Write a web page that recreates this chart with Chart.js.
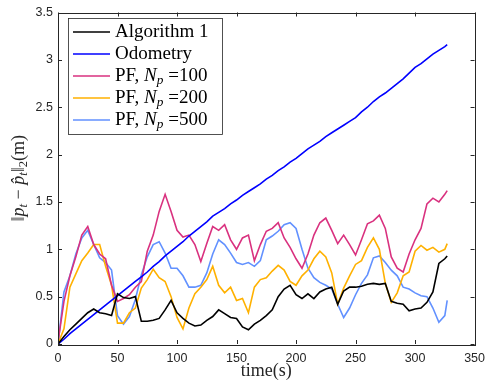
<!DOCTYPE html>
<html>
<head>
<meta charset="utf-8">
<script src="https://cdn.jsdelivr.net/npm/chart.js@4.4.0/dist/chart.umd.min.js"></script>
<style>
  html, body { margin: 0; padding: 0; background: #fff; }
  #wrap { width: 492px; height: 391px; }
</style>
</head>
<body>
<div id="wrap"><canvas id="errChart"></canvas></div>
<script>
// time axis (s)
var timeS = [0, 5, 10, 15, 20, 25, 30, 35, 40, 45, 50, 55, 60, 65, 70, 75, 80, 85, 90, 95,
  100, 105, 110, 115, 120, 125, 130, 135, 140, 145, 150, 155, 160, 165, 170, 175, 180, 185, 190, 195,
  200, 205, 210, 215, 220, 225, 230, 235, 240, 245, 250, 255, 260, 265, 270, 275, 280, 285, 290, 295,
  300, 305, 310, 315, 320, 325, 327];

var alg1 = [0, 0.08, 0.15, 0.21, 0.27, 0.33, 0.37, 0.33, 0.32, 0.30, 0.53, 0.49, 0.48, 0.50, 0.24, 0.24, 0.25, 0.27, 0.36, 0.46,
  0.33, 0.27, 0.22, 0.19, 0.20, 0.25, 0.29, 0.36, 0.32, 0.28, 0.27, 0.18, 0.15, 0.21, 0.25, 0.30, 0.36, 0.50, 0.58, 0.62,
  0.52, 0.48, 0.53, 0.48, 0.55, 0.58, 0.60, 0.42, 0.56, 0.60, 0.60, 0.61, 0.63, 0.64, 0.63, 0.64, 0.45, 0.43, 0.42, 0.35,
  0.37, 0.38, 0.44, 0.55, 0.85, 0.90, 0.93];

var odometry = [0, 0.05, 0.11, 0.16, 0.21, 0.26, 0.31, 0.36, 0.41, 0.46, 0.51, 0.56, 0.61, 0.66, 0.71, 0.76, 0.82, 0.87, 0.93, 0.98,
  1.03, 1.08, 1.14, 1.19, 1.24, 1.29, 1.35, 1.39, 1.43, 1.48, 1.52, 1.57, 1.61, 1.65, 1.69, 1.74, 1.78, 1.83, 1.87, 1.92,
  1.96, 2.01, 2.06, 2.10, 2.14, 2.19, 2.23, 2.27, 2.31, 2.35, 2.39, 2.45, 2.50, 2.56, 2.61, 2.65, 2.70, 2.75, 2.80, 2.86,
  2.92, 2.96, 3.01, 3.06, 3.10, 3.14, 3.16];

var pf100 = [0.02, 0.45, 0.72, 0.92, 1.15, 1.24, 1.05, 0.95, 0.90, 0.62, 0.45, 0.48, 0.52, 0.60, 0.66, 0.98, 1.15, 1.40, 1.58, 1.40,
  1.20, 1.13, 1.15, 1.05, 0.87, 1.06, 1.24, 1.20, 1.26, 1.10, 1.00, 1.12, 1.15, 0.88, 1.05, 1.19, 1.22, 1.28, 1.12, 1.02,
  0.90, 0.80, 0.95, 1.15, 1.28, 1.33, 1.20, 1.06, 1.15, 1.05, 0.94, 1.10, 1.27, 1.30, 1.36, 1.22, 0.92, 0.80, 0.76, 0.95,
  1.10, 1.22, 1.48, 1.54, 1.50, 1.58, 1.62];

var pf200 = [0, 0.16, 0.60, 0.74, 0.88, 0.96, 1.05, 1.05, 0.82, 0.62, 0.22, 0.22, 0.33, 0.38, 0.59, 0.68, 0.79, 0.70, 0.66, 0.50,
  0.28, 0.16, 0.38, 0.53, 0.60, 0.68, 0.82, 0.62, 0.54, 0.60, 0.46, 0.48, 0.33, 0.60, 0.68, 0.70, 0.77, 0.83, 0.78, 0.66,
  0.62, 0.72, 0.78, 0.90, 0.98, 0.92, 0.75, 0.42, 0.59, 0.72, 0.84, 0.88, 1.02, 1.12, 1.00, 0.64, 0.44, 0.54, 0.72, 0.76,
  0.98, 1.04, 0.99, 1.02, 0.97, 1.00, 1.06];

var pf500 = [0, 0.55, 0.72, 0.95, 1.12, 1.20, 1.05, 0.91, 0.86, 0.78, 0.30, 0.21, 0.29, 0.47, 0.73, 0.92, 1.05, 1.08, 0.96, 0.80,
  0.80, 0.72, 0.60, 0.60, 0.62, 0.75, 0.95, 1.10, 1.05, 0.96, 0.86, 0.84, 0.86, 0.82, 0.88, 1.10, 1.14, 1.19, 1.26, 1.28,
  1.22, 1.00, 0.80, 0.70, 0.65, 0.62, 0.58, 0.42, 0.28, 0.38, 0.52, 0.64, 0.73, 0.91, 0.93, 0.86, 0.78, 0.72, 0.60, 0.58,
  0.54, 0.51, 0.50, 0.38, 0.23, 0.30, 0.46];

var xTicks = [0, 50, 100, 150, 200, 250, 300, 350];
var yTicks = [0, 0.5, 1, 1.5, 2, 2.5, 3, 3.5];

var axisColor = '#262626';
var serif = '"Liberation Serif", "DejaVu Serif", serif';

function toPoints(vals) {
  return timeS.map(function (t, i) { return { x: t, y: vals[i] }; });
}

// legend entries: pieces of [text, italic, subscript]
var legendParts = [
  [['Algorithm 1', false, false]],
  [['Odometry', false, false]],
  [['PF, ', false, false], ['N', true, false], ['p', true, true], [' =100', false, false]],
  [['PF, ', false, false], ['N', true, false], ['p', true, true], [' =200', false, false]],
  [['PF, ', false, false], ['N', true, false], ['p', true, true], [' =500', false, false]]
];

var yTitleParts = [['\u2016', false, false], ['p', true, false], ['t', true, true], [' \u2212 ', false, false],
  ['p\u0302', true, false], ['t', true, true], ['\u2016', false, false], ['2', false, true], ['(m)', false, false]];

function drawParts(ctx, parts, x, y, size) {
  parts.forEach(function (p) {
    var s = p[2] ? size * 0.7 : size;
    ctx.font = (p[1] ? 'italic ' : '') + s + 'px ' + serif;
    ctx.fillText(p[0], x, p[2] ? y + size * 0.25 : y);
    x += ctx.measureText(p[0]).width;
  });
  return x;
}
function partsWidth(ctx, parts, size) {
  var w = 0;
  parts.forEach(function (p) {
    var s = p[2] ? size * 0.7 : size;
    ctx.font = (p[1] ? 'italic ' : '') + s + 'px ' + serif;
    w += ctx.measureText(p[0]).width;
  });
  return w;
}

var boxPlugin = {
  id: 'matlabBox',
  afterDraw: function (chart) {
    var ctx = chart.ctx;
    var a = chart.chartArea;
    var xs = chart.scales.x, ys = chart.scales.y;
    ctx.save();
    // axes box
    ctx.strokeStyle = axisColor;
    ctx.lineWidth = 1;
    ctx.strokeRect(Math.round(a.left) + 0.5, Math.round(a.top) + 0.5,
      Math.round(a.right - a.left), Math.round(a.bottom - a.top));
    // inward ticks
    ctx.beginPath();
    xTicks.forEach(function (v) {
      var px = Math.round(xs.getPixelForValue(v)) + 0.5;
      ctx.moveTo(px, a.bottom); ctx.lineTo(px, a.bottom - 4);
      ctx.moveTo(px, a.top); ctx.lineTo(px, a.top + 4);
    });
    yTicks.forEach(function (v) {
      var py = Math.round(ys.getPixelForValue(v)) + 0.5;
      ctx.moveTo(a.left, py); ctx.lineTo(a.left + 4, py);
      ctx.moveTo(a.right, py); ctx.lineTo(a.right - 4, py);
    });
    ctx.stroke();

    // x title
    ctx.fillStyle = axisColor;
    ctx.textBaseline = 'middle';
    ctx.textAlign = 'center';
    ctx.font = '18px ' + serif;
    ctx.fillText('time(s)', (a.left + a.right) / 2, 371);

    // y title
    ctx.save();
    ctx.translate(19, (a.top + a.bottom) / 2);
    ctx.rotate(-Math.PI / 2);
    ctx.textAlign = 'left';
    var tw = partsWidth(ctx, yTitleParts, 18);
    drawParts(ctx, yTitleParts, -tw / 2, 0, 18);
    ctx.restore();

    // legend
    var lx = 68.5, ly = 18.5, lw = 154, lh = 116;
    ctx.fillStyle = '#fff';
    ctx.fillRect(lx, ly, lw, lh);
    ctx.strokeStyle = '#262626';
    ctx.lineWidth = 0.8;
    ctx.strokeRect(lx, ly, lw, lh);
    ctx.textAlign = 'left';
    ctx.textBaseline = 'middle';
    chart.data.datasets.forEach(function (ds, i) {
      var cy = 32 + i * 22;
      ctx.strokeStyle = ds.borderColor;
      ctx.lineWidth = 1.6;
      ctx.beginPath();
      ctx.moveTo(73, cy); ctx.lineTo(110, cy);
      ctx.stroke();
      ctx.fillStyle = '#000';
      drawParts(ctx, legendParts[i], 115, cy, 19);
    });
    ctx.restore();
  }
};

var ctx = document.getElementById('errChart').getContext('2d');
var errChart = new Chart(ctx, {
  type: 'line',
  data: {
    datasets: [
      { label: 'Algorithm 1', data: toPoints(alg1), borderColor: '#000000' },
      { label: 'Odometry', data: toPoints(odometry), borderColor: '#0000ff' },
      { label: 'PF, Np =100', data: toPoints(pf100), borderColor: '#d9317f' },
      { label: 'PF, Np =200', data: toPoints(pf200), borderColor: '#ffb100' },
      { label: 'PF, Np =500', data: toPoints(pf500), borderColor: '#6291ff' }
    ]
  },
  options: {
    responsive: true,
    maintainAspectRatio: false,
    animation: false,
    devicePixelRatio: 1,
    layout: { padding: { top: 10, right: 9, left: 0, bottom: 0 } },
    elements: {
      point: { radius: 0 },
      line: { borderWidth: 1.6, tension: 0, fill: false }
    },
    plugins: {
      legend: { display: false },
      tooltip: { enabled: false }
    },
    scales: {
      x: {
        type: 'linear',
        min: 0, max: 350,
        afterBuildTicks: function (s) { s.ticks = xTicks.map(function (v) { return { value: v }; }); },
        afterFit: function (s) { s.height = 47; },
        grid: { display: false, drawTicks: false },
        border: { display: false },
        ticks: { color: axisColor, padding: 7, maxRotation: 0,
          callback: function (v) { return String(v); },
          font: { family: '"Liberation Sans", Arial, sans-serif', size: 12.5 } }
      },
      y: {
        min: 0, max: 3.5,
        afterBuildTicks: function (s) { s.ticks = yTicks.map(function (v) { return { value: v }; }); },
        afterFit: function (s) { s.width = 58; },
        grid: { display: false, drawTicks: false },
        border: { display: false },
        ticks: { color: axisColor, padding: 5,
          callback: function (v) { return String(v); },
          font: { family: '"Liberation Sans", Arial, sans-serif', size: 12.5 } }
      }
    }
  },
  plugins: [boxPlugin]
});
</script>
</body>
</html>
